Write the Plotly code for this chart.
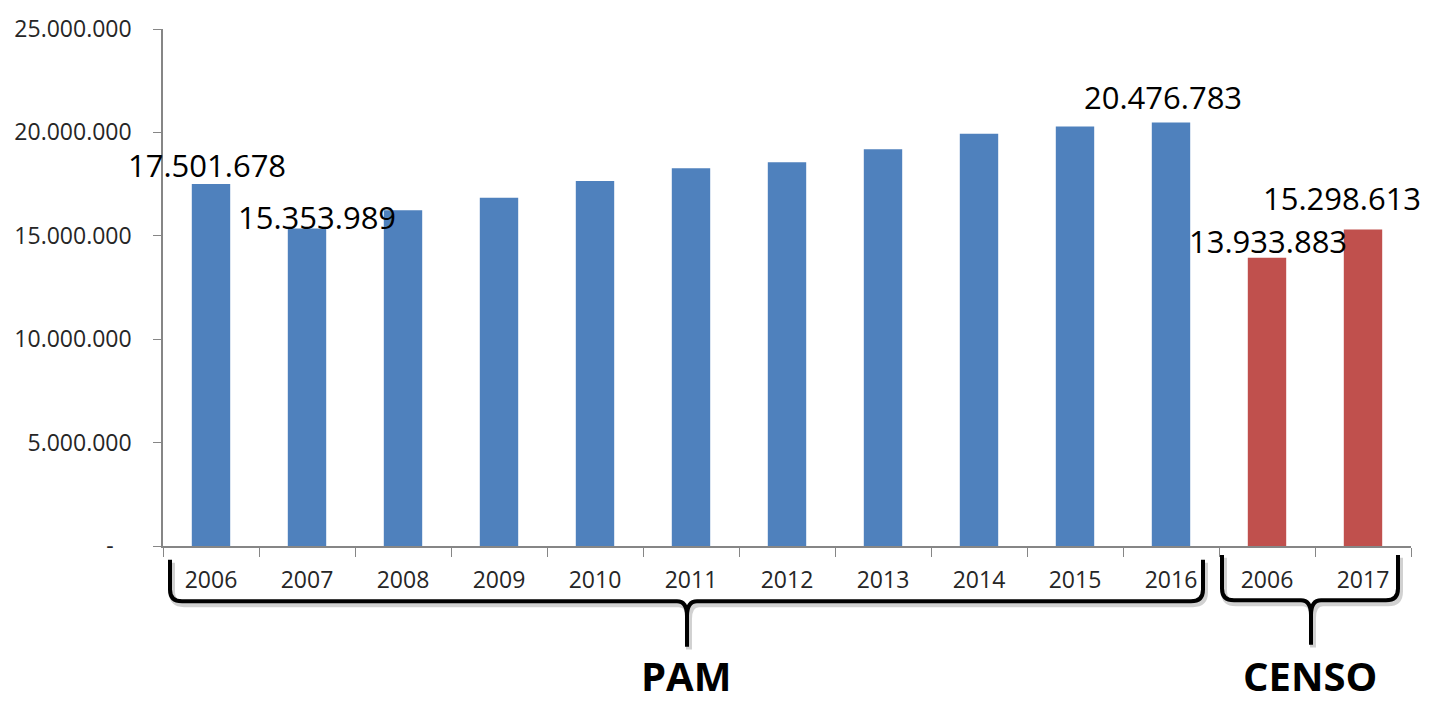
import plotly.graph_objects as go

# ---- data ----
pam_years = ["2006", "2007", "2008", "2009", "2010", "2011", "2012", "2013", "2014", "2015", "2016"]
pam_values = [17501678, 15353989, 16230000, 16840000, 17650000, 18270000, 18560000, 19180000, 19940000, 20280000, 20476783]
censo_years = ["2006", "2017"]
censo_values = [13933883, 15298613]
group_names = ["PAM", "CENSO"]
y_tickvals = [0, 5000000, 10000000, 15000000, 20000000, 25000000]

# labelled bars: (group, year, pixel shift x, pixel shift y)
labelled = [("PAM", "2006", -4, 19), ("PAM", "2007", 10, 11), ("PAM", "2016", -8, 26),
            ("CENSO", "2006", 1, 17), ("CENSO", "2017", -21, 32)]


def fmt(v):
    return f"{v:,}".replace(",", ".")


pam_keys = [f"PAM {y}" for y in pam_years]
censo_keys = [f"CENSO {y}" for y in censo_years]

BLUE = "#4F81BD"
RED = "#C0504D"
FONT = "Open Sans"

fig = go.Figure()
fig.add_trace(go.Bar(x=pam_keys, y=pam_values, marker=dict(color=BLUE, line=dict(width=0)),
                     width=0.4, name="PAM", hoverinfo="x+y"))
fig.add_trace(go.Bar(x=censo_keys, y=censo_values, marker=dict(color=RED, line=dict(width=0)),
                     width=0.4, name="CENSO", hoverinfo="x+y"))

# data labels
lookup = dict(zip(pam_keys, pam_values))
lookup.update(dict(zip(censo_keys, censo_values)))
annotations = []
for g, yr, dx, dy in labelled:
    key = f"{g} {yr}"
    annotations.append(dict(x=key, y=lookup[key], xref="x", yref="y", text=fmt(lookup[key]),
                            showarrow=False, xshift=dx, yshift=dy, xanchor="center", yanchor="middle",
                            font=dict(family=FONT, size=31, color="#000000")))

# geometry helpers (pixel -> paper) for decorations
L, R, T, B = 163, 20, 22, 162
W, H = 1431 - L - R, 708 - T - B


def px(x):
    return (x - L) / W


def py(y):
    return (708 - B - y) / H


def brace_path(x0, x1, xm, ytop, yline, ytip, r=12, s=10, dxs=0, dys=0):
    def P(x, y):
        return f"{px(x + dxs):.5f},{py(y + dys):.5f}"
    return (f"M {P(x0, ytop)} L {P(x0, yline - r)} Q {P(x0, yline)} {P(x0 + r, yline)} "
            f"L {P(xm - s, yline)} Q {P(xm, yline)} {P(xm, yline + 15)} L {P(xm, ytip)} "
            f"M {P(xm, ytip)} L {P(xm, yline + 15)} Q {P(xm, yline)} {P(xm + s, yline)} "
            f"L {P(x1 - r, yline)} Q {P(x1, yline)} {P(x1, yline - r)} L {P(x1, ytop)}")


braces = [(group_names[0], 170, 1203, 687, 560, 602, 648),
          (group_names[1], 1222, 1398, 1311, 555, 601, 646)]
shapes = []
for name, x0, x1, xm, yt, yl, ytip in braces:
    shapes.append(dict(type="path", xref="paper", yref="paper",
                       path=brace_path(x0, x1, xm, yt, yl, ytip, dxs=2, dys=3),
                       line=dict(color="rgba(0,0,0,0.18)", width=6)))
    shapes.append(dict(type="path", xref="paper", yref="paper",
                       path=brace_path(x0, x1, xm, yt, yl, ytip),
                       line=dict(color="#000000", width=4)))
    annotations.append(dict(x=px(xm - 1), y=py(707), xref="paper", yref="paper", text=f"<b>{name}</b>",
                            showarrow=False, xanchor="center", yanchor="bottom",
                            font=dict(family=FONT, size=40, color="#000000")))

fig.update_layout(
    width=1431, height=708,
    margin=dict(l=L, r=R, t=T, b=B),
    paper_bgcolor="white", plot_bgcolor="white",
    barmode="overlay", bargap=0.6, showlegend=False,
    font=dict(family=FONT, color="#262626"),
    annotations=annotations, shapes=shapes,
    xaxis=dict(
        type="category", categoryorder="array", categoryarray=pam_keys + censo_keys,
        tickvals=pam_keys + censo_keys, ticktext=pam_years + censo_years,
        tickson="boundaries", ticks="outside", ticklen=9, tickwidth=1, tickcolor="#868686",
        showline=True, linecolor="#868686", linewidth=1.5, showgrid=False, zeroline=False,
        tickfont=dict(family=FONT, size=23, color="#262626"), ticklabelstandoff=13,
        range=[-0.5, len(pam_keys) + len(censo_keys) - 0.5], fixedrange=True,
    ),
    yaxis=dict(
        range=[0, 25000000], tickvals=y_tickvals,
        ticktext=["-\u00a0\u00a0\u00a0"] + [fmt(v) for v in y_tickvals[1:]],
        ticks="outside", ticklen=8, tickwidth=1, tickcolor="#868686",
        showline=True, linecolor="#868686", linewidth=1.5, showgrid=False, zeroline=False,
        tickfont=dict(family=FONT, size=23, color="#262626"), ticklabelstandoff=17, fixedrange=True,
    ),
)

fig.write_html("out.html", config={"displayModeBar": False},
               post_script="document.body.style.margin='0';document.body.style.overflow='hidden';")
